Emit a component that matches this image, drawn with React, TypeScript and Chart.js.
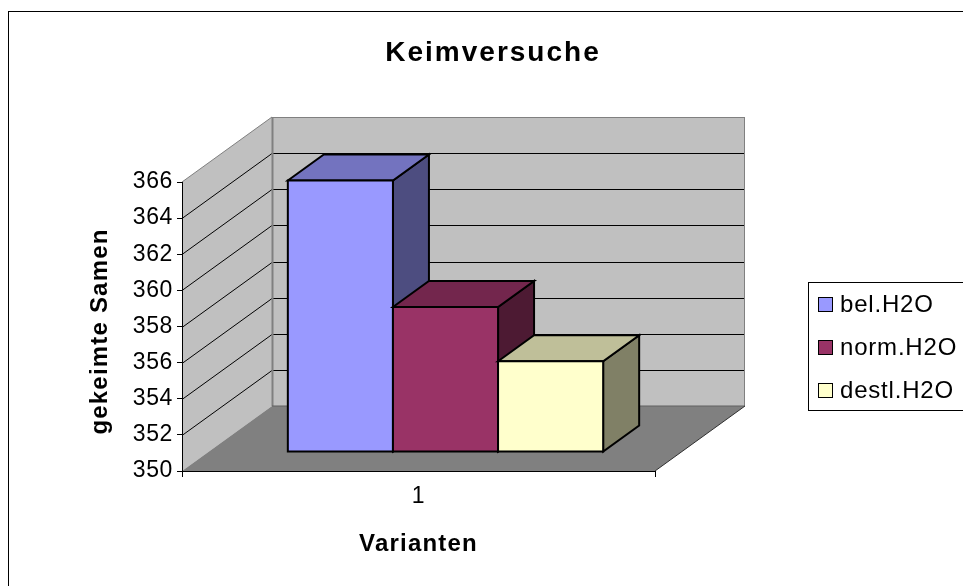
import React, { useEffect, useRef } from 'react';
import { Chart, registerables } from 'chart.js';

Chart.register(...registerables);

// ---- data ----
const categories = ['1'];
const seriesNames = ['bel.H2O', 'norm.H2O', 'destl.H2O'];
const belValues = [365];
const normValues = [358];
const destlValues = [355];
const yMin = 350;
const yMax = 366;
const yStep = 2;

const chartTitle = 'Keimversuche';
const yTitle = 'gekeimte Samen';
const xTitle = 'Varianten';

// ---- styles ----
const frontColors = ['#9999FF', '#993366', '#FFFFCC'];
const topColors = ['#7373BF', '#73264D', '#BFBF99'];
const sideColors = ['#4D4D80', '#4D1A33', '#808066'];
const FONT = '"Liberation Sans", Arial, sans-serif';
const DEPTH_X = 90;
const DEPTH_Y = -65;
const BAR_FRONT = 0.3;
const BAR_DEPTH = 0.4;

function poly(ctx: CanvasRenderingContext2D, pts: number[][], fill?: string, stroke?: string, lw = 1) {
  ctx.beginPath();
  ctx.moveTo(pts[0][0], pts[0][1]);
  for (let i = 1; i < pts.length; i++) ctx.lineTo(pts[i][0], pts[i][1]);
  ctx.closePath();
  if (fill) {
    ctx.fillStyle = fill;
    ctx.fill();
  }
  if (stroke) {
    ctx.strokeStyle = stroke;
    ctx.lineWidth = lw;
    ctx.stroke();
  }
}

function line(ctx: CanvasRenderingContext2D, x1: number, y1: number, x2: number, y2: number, color: string, lw = 1) {
  ctx.beginPath();
  ctx.moveTo(x1, y1);
  ctx.lineTo(x2, y2);
  ctx.strokeStyle = color;
  ctx.lineWidth = lw;
  ctx.stroke();
}

const excel3d = {
  id: 'excel3d',
  beforeDraw(chart: any) {
    const { ctx, chartArea: a, scales } = chart;
    const ys = scales.y;
    ctx.save();
    ctx.fillStyle = '#fff';
    ctx.fillRect(0, 0, chart.width, chart.height);
    ctx.strokeStyle = '#000';
    ctx.lineWidth = 1;
    ctx.strokeRect(8.5, 11.5, chart.width + 20, chart.height + 20);

    const L = a.left, R = a.right, T = a.top, B = a.bottom;
    const bl = L + DEPTH_X, br = R + DEPTH_X, bt = T + DEPTH_Y, bb = B + DEPTH_Y;
    poly(ctx, [[bl, bt], [br, bt], [br, bb], [bl, bb]], '#C0C0C0');
    poly(ctx, [[L, T], [bl, bt], [bl, bb], [L, B]], '#C0C0C0');
    poly(ctx, [[L, B], [R, B], [br, bb], [bl, bb]], '#808080');

    for (let v = yMin + yStep; v < yMax; v += yStep) {
      const py = Math.round(ys.getPixelForValue(v)) + 0.5;
      line(ctx, L, py, bl, py + DEPTH_Y, '#000', 1);
      line(ctx, bl, py + DEPTH_Y, br, py + DEPTH_Y, '#000', 1);
    }
    line(ctx, L, T, bl, bt, '#808080', 1);
    line(ctx, bl, bt + 0.5, br, bt + 0.5, '#808080', 1);
    line(ctx, bl + 0.5, bt, bl + 0.5, bb, '#808080', 2);
    line(ctx, br - 0.5, bt, br - 0.5, bb, '#808080', 1);
    line(ctx, bl, bb, br, bb, '#606060', 1);
    line(ctx, R, B, br, bb, '#303030', 1);
    ctx.restore();
    (ctx as any).letterSpacing = '0.6px';
  },
  beforeDatasetsDraw(chart: any) {
    const { ctx, scales } = chart;
    const basePx = scales.y.getPixelForValue(yMin);
    const bx = BAR_DEPTH * DEPTH_X;
    const by = BAR_DEPTH * DEPTH_Y;
    const sx = BAR_FRONT * DEPTH_X;
    const sy = BAR_FRONT * DEPTH_Y;
    ctx.save();
    ctx.lineJoin = 'miter';
    chart.data.datasets.forEach((ds: any, di: number) => {
      const meta = chart.getDatasetMeta(di);
      meta.data.forEach((bar: any) => {
        const x0 = bar.x - bar.width / 2 + sx;
        const x1 = bar.x + bar.width / 2 + sx;
        const yT = bar.y + sy;
        const yB = basePx + sy;
        poly(ctx, [[x1, yT], [x1 + bx, yT + by], [x1 + bx, yB + by], [x1, yB]], sideColors[di], '#000', 2);
        poly(ctx, [[x0, yT], [x0 + bx, yT + by], [x1 + bx, yT + by], [x1, yT]], topColors[di], '#000', 2);
        poly(ctx, [[x0, yT], [x1, yT], [x1, yB], [x0, yB]], frontColors[di], '#000', 2);
      });
    });
    ctx.restore();
    return false;
  },
  afterDraw(chart: any) {
    const { ctx, chartArea: a } = chart;
    ctx.save();
    ctx.fillStyle = '#000';
    ctx.textAlign = 'center';
    ctx.textBaseline = 'middle';
    // title
    (ctx as any).letterSpacing = '2px';
    ctx.font = `bold 28px ${FONT}`;
    ctx.fillText(chartTitle, 493, 53);
    // axis titles
    (ctx as any).letterSpacing = '1.2px';
    ctx.font = `bold 24px ${FONT}`;
    ctx.fillText(xTitle, (a.left + a.right) / 2, 544);
    ctx.save();
    ctx.translate(100, (a.top + a.bottom) / 2 + 5);
    ctx.rotate(-Math.PI / 2);
    ctx.fillText(yTitle, 0, 0);
    ctx.restore();
    // legend
    (ctx as any).letterSpacing = '0.8px';
    ctx.strokeStyle = '#000';
    ctx.lineWidth = 1;
    ctx.strokeRect(808.5, 282.5, 200, 128);
    ctx.font = `24px ${FONT}`;
    ctx.textAlign = 'left';
    seriesNames.forEach((name, i) => {
      const cy = 304 + i * 43;
      ctx.fillStyle = frontColors[i];
      ctx.fillRect(818, cy - 7, 15, 15);
      ctx.strokeStyle = '#000';
      ctx.strokeRect(818.5, cy - 6.5, 14, 14);
      ctx.fillStyle = '#000';
      ctx.fillText(name, 840, cy + 1);
    });
    ctx.restore();
  },
};

export default function App() {
  const ref = useRef<HTMLCanvasElement>(null);
  useEffect(() => {
    document.body.style.margin = '0';
    const canvas = ref.current!;
    const chart = new Chart(canvas, {
      type: 'bar',
      data: {
        labels: categories,
        datasets: [
          { label: seriesNames[0], data: belValues, backgroundColor: frontColors[0] },
          { label: seriesNames[1], data: normValues, backgroundColor: frontColors[1] },
          { label: seriesNames[2], data: destlValues, backgroundColor: frontColors[2] },
        ],
      },
      options: {
        animation: false,
        responsive: false,
        maintainAspectRatio: false,
        events: [],
        datasets: { bar: { categoryPercentage: 2 / 3, barPercentage: 1 } },
        layout: { padding: { left: 0, right: 308, top: 182, bottom: 0 } },
        plugins: { legend: { display: false }, title: { display: false }, tooltip: { enabled: false } },
        scales: {
          x: {
            offset: true,
            grid: { display: true, drawOnChartArea: false, drawTicks: true, tickLength: 6, color: '#000', offset: true },
            border: { display: true, color: '#000', width: 1 },
            ticks: { font: { family: FONT, size: 23 }, color: '#000', padding: 6 },
            afterFit: (s: any) => { s.height = 115; },
          },
          y: {
            min: yMin,
            max: yMax,
            ticks: { stepSize: yStep, font: { family: FONT, size: 23 }, color: '#000', padding: 4 },
            grid: { drawOnChartArea: false, tickLength: 5, color: '#000' },
            border: { display: true, color: '#000', width: 1 },
            afterFit: (s: any) => { s.width = 182; },
          },
        },
      },
      plugins: [excel3d],
    } as any);
    return () => chart.destroy();
  }, []);
  return <canvas ref={ref} width={963} height={586} style={{ display: 'block', width: 963, height: 586 }} />;
}
